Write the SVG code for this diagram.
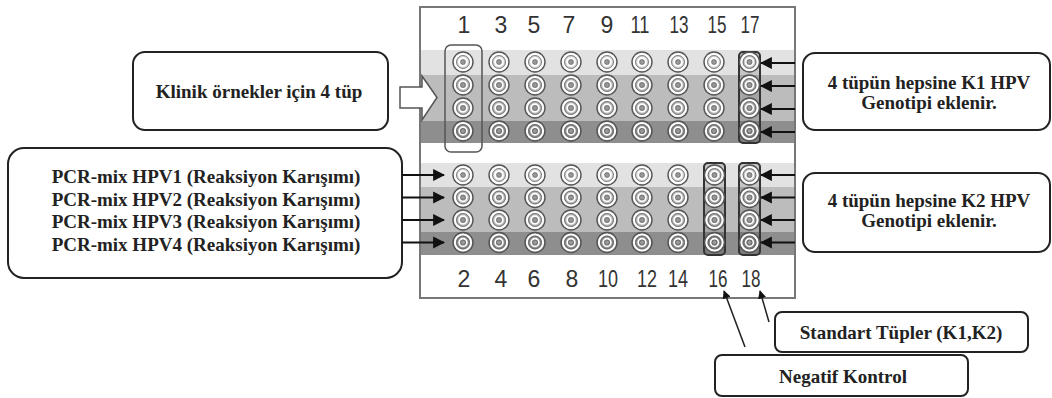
<svg xmlns="http://www.w3.org/2000/svg" width="1052" height="398" viewBox="0 0 1052 398">
<style>
.box{fill:#fff;stroke:#222;stroke-width:2}
.lbl{font-family:"Liberation Serif",serif;font-weight:bold;font-size:19px;fill:#222;text-anchor:middle}
.num{font-family:"Liberation Sans",sans-serif;font-size:23px;fill:#333;text-anchor:middle}
.arr{stroke:#111;stroke-width:2.2;fill:none;marker-end:url(#ah)}
.thin{stroke:#222;stroke-width:1.5;fill:none;marker-end:url(#ah)}
.ctl{fill:rgba(0,0,0,0.12);stroke:#333;stroke-width:2}
</style>
<defs>
<marker id="ah" viewBox="0 0 10 10" refX="9" refY="5" markerWidth="5.5" markerHeight="5.5" orient="auto" markerUnits="strokeWidth">
<path d="M0,0 L10,5 L0,10 z" fill="#111"/>
</marker>
<g id="tube">
<circle r="10" fill="none" stroke="#555" stroke-width="1.4"/>
<circle r="8.1" fill="none" stroke="#fff" stroke-width="2"/>
<circle r="6.4" fill="none" stroke="#666" stroke-width="0.9"/>
<circle r="3.9" fill="none" stroke="#fff" stroke-width="1.6"/>
<circle r="2.4" fill="#999" stroke="#555" stroke-width="0.6"/>
</g>
</defs>
<rect width="1052" height="398" fill="#fff"/>

<g id="plate">
<rect x="420" y="7" width="375" height="291" fill="#fff" stroke="#777" stroke-width="2"/>
<rect x="421" y="50" width="373" height="25" fill="#e2e2e2"/>
<rect x="421" y="75" width="373" height="46" fill="#bcbcbc"/>
<rect x="421" y="121" width="373" height="22" fill="#8e8e8e"/>
<rect x="421" y="163" width="373" height="24" fill="#e2e2e2"/>
<rect x="421" y="187" width="373" height="45" fill="#bcbcbc"/>
<rect x="421" y="232" width="373" height="23" fill="#8e8e8e"/>
<rect x="445" y="45" width="37" height="107" rx="6" fill="none" stroke="#555" stroke-width="1.5"/>
<rect x="739" y="52" width="21" height="91" rx="4" class="ctl"/>
<rect x="704" y="163" width="21" height="92" rx="4" class="ctl"/>
<rect x="739" y="163" width="21" height="92" rx="4" class="ctl"/>
<g id="tubes-top">
<use href="#tube" x="463" y="62"/><use href="#tube" x="463" y="85"/><use href="#tube" x="463" y="108"/><use href="#tube" x="463" y="131"/>
<use href="#tube" x="499" y="62"/><use href="#tube" x="499" y="85"/><use href="#tube" x="499" y="108"/><use href="#tube" x="499" y="131"/>
<use href="#tube" x="535" y="62"/><use href="#tube" x="535" y="85"/><use href="#tube" x="535" y="108"/><use href="#tube" x="535" y="131"/>
<use href="#tube" x="571" y="62"/><use href="#tube" x="571" y="85"/><use href="#tube" x="571" y="108"/><use href="#tube" x="571" y="131"/>
<use href="#tube" x="607" y="62"/><use href="#tube" x="607" y="85"/><use href="#tube" x="607" y="108"/><use href="#tube" x="607" y="131"/>
<use href="#tube" x="642" y="62"/><use href="#tube" x="642" y="85"/><use href="#tube" x="642" y="108"/><use href="#tube" x="642" y="131"/>
<use href="#tube" x="678" y="62"/><use href="#tube" x="678" y="85"/><use href="#tube" x="678" y="108"/><use href="#tube" x="678" y="131"/>
<use href="#tube" x="714" y="62"/><use href="#tube" x="714" y="85"/><use href="#tube" x="714" y="108"/><use href="#tube" x="714" y="131"/>
<use href="#tube" x="749.5" y="62"/><use href="#tube" x="749.5" y="85"/><use href="#tube" x="749.5" y="108"/><use href="#tube" x="749.5" y="131"/>
</g>
<g id="tubes-bottom">
<use href="#tube" x="463" y="175"/><use href="#tube" x="463" y="197.5"/><use href="#tube" x="463" y="220"/><use href="#tube" x="463" y="242.5"/>
<use href="#tube" x="499" y="175"/><use href="#tube" x="499" y="197.5"/><use href="#tube" x="499" y="220"/><use href="#tube" x="499" y="242.5"/>
<use href="#tube" x="535" y="175"/><use href="#tube" x="535" y="197.5"/><use href="#tube" x="535" y="220"/><use href="#tube" x="535" y="242.5"/>
<use href="#tube" x="571" y="175"/><use href="#tube" x="571" y="197.5"/><use href="#tube" x="571" y="220"/><use href="#tube" x="571" y="242.5"/>
<use href="#tube" x="607" y="175"/><use href="#tube" x="607" y="197.5"/><use href="#tube" x="607" y="220"/><use href="#tube" x="607" y="242.5"/>
<use href="#tube" x="642" y="175"/><use href="#tube" x="642" y="197.5"/><use href="#tube" x="642" y="220"/><use href="#tube" x="642" y="242.5"/>
<use href="#tube" x="678" y="175"/><use href="#tube" x="678" y="197.5"/><use href="#tube" x="678" y="220"/><use href="#tube" x="678" y="242.5"/>
<use href="#tube" x="714.5" y="175"/><use href="#tube" x="714.5" y="197.5"/><use href="#tube" x="714.5" y="220"/><use href="#tube" x="714.5" y="242.5"/>
<use href="#tube" x="749.5" y="175"/><use href="#tube" x="749.5" y="197.5"/><use href="#tube" x="749.5" y="220"/><use href="#tube" x="749.5" y="242.5"/>
</g>
<g id="numbers-top">
<text class="num" x="464" y="33">1</text>
<text class="num" x="501" y="33">3</text>
<text class="num" x="534" y="33">5</text>
<text class="num" x="569" y="33">7</text>
<text class="num" x="607" y="33">9</text>
<text class="num" x="640" y="33" textLength="19" lengthAdjust="spacingAndGlyphs">11</text>
<text class="num" x="679" y="33" textLength="19" lengthAdjust="spacingAndGlyphs">13</text>
<text class="num" x="717" y="33" textLength="19" lengthAdjust="spacingAndGlyphs">15</text>
<text class="num" x="750" y="33" textLength="19" lengthAdjust="spacingAndGlyphs">17</text>
</g>
<g id="numbers-bottom">
<text class="num" x="464" y="287">2</text>
<text class="num" x="501" y="287">4</text>
<text class="num" x="534" y="287">6</text>
<text class="num" x="572" y="287">8</text>
<text class="num" x="608" y="287" textLength="20" lengthAdjust="spacingAndGlyphs">10</text>
<text class="num" x="647" y="287" textLength="20" lengthAdjust="spacingAndGlyphs">12</text>
<text class="num" x="678" y="287" textLength="20" lengthAdjust="spacingAndGlyphs">14</text>
<text class="num" x="718" y="287" textLength="19" lengthAdjust="spacingAndGlyphs">16</text>
<text class="num" x="751" y="287" textLength="19" lengthAdjust="spacingAndGlyphs">18</text>
</g>
</g>

<g id="klinik">
<rect class="box" x="133" y="52" width="255" height="78" rx="12"/>
<text class="lbl" x="259" y="98" font-size="19.5">Klinik örnekler için 4 tüp</text>
</g>
<g id="pcr">
<rect class="box" x="8" y="148" width="394" height="130" rx="16"/>
<text class="lbl" x="206" y="183">PCR-mix HPV1 (Reaksiyon Karışımı)</text>
<text class="lbl" x="206" y="206">PCR-mix HPV2 (Reaksiyon Karışımı)</text>
<text class="lbl" x="206" y="228">PCR-mix HPV3 (Reaksiyon Karışımı)</text>
<text class="lbl" x="206" y="251">PCR-mix HPV4 (Reaksiyon Karışımı)</text>
</g>
<g id="k1">
<rect class="box" x="803" y="53" width="247" height="77" rx="12"/>
<text class="lbl" x="929" y="89">4 tüpün hepsine K1 HPV</text>
<text class="lbl" x="929" y="109">Genotipi eklenir.</text>
</g>
<g id="k2">
<rect class="box" x="803" y="173" width="247" height="79" rx="12"/>
<text class="lbl" x="929" y="207">4 tüpün hepsine K2 HPV</text>
<text class="lbl" x="929" y="227">Genotipi eklenir.</text>
</g>
<g id="standart">
<rect class="box" x="775" y="312" width="253" height="40" rx="7"/>
<text class="lbl" x="901" y="339">Standart Tüpler (K1,K2)</text>
</g>
<g id="negatif">
<rect class="box" x="715" y="355" width="253" height="41" rx="7"/>
<text class="lbl" x="843" y="383">Negatif Kontrol</text>
</g>

<g id="connectors">
<polygon points="400,87 422,87 422,76 437,97.5 422,120 422,108 400,108" fill="#fff" stroke="#555" stroke-width="1.5"/>
<line class="arr" x1="402" y1="175" x2="444" y2="175"/>
<line class="arr" x1="402" y1="197.5" x2="444" y2="197.5"/>
<line class="arr" x1="402" y1="220" x2="444" y2="220"/>
<line class="arr" x1="402" y1="242.5" x2="444" y2="242.5"/>
<line class="arr" x1="795" y1="63" x2="761" y2="63"/>
<line class="arr" x1="795" y1="86" x2="761" y2="86"/>
<line class="arr" x1="795" y1="109" x2="761" y2="109"/>
<line class="arr" x1="795" y1="132" x2="761" y2="132"/>
<line class="arr" x1="795" y1="175" x2="761" y2="175"/>
<line class="arr" x1="795" y1="197.5" x2="761" y2="197.5"/>
<line class="arr" x1="795" y1="220" x2="761" y2="220"/>
<line class="arr" x1="795" y1="242.5" x2="761" y2="242.5"/>
<line class="thin" x1="745" y1="347" x2="724" y2="291"/>
<line class="thin" x1="769" y1="322" x2="760" y2="291"/>
</g>
</svg>
